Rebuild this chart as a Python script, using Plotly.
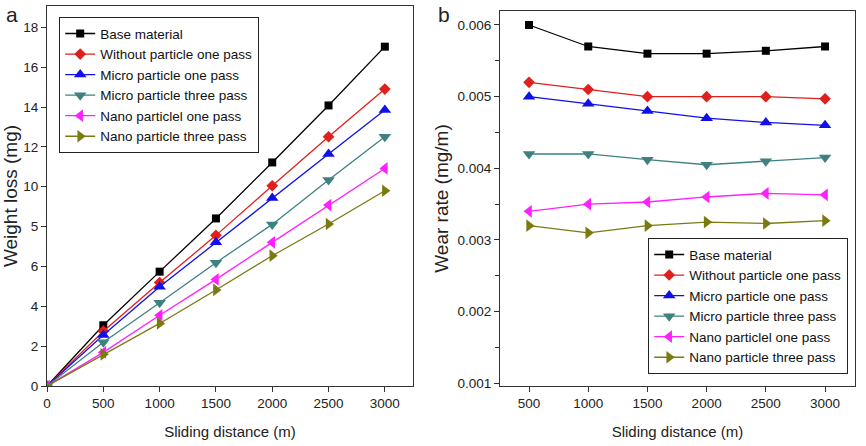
import plotly.graph_objects as go

series_names = ["Base material", "Without particle one pass", "Micro particle one pass",
                "Micro particle three pass", "Nano particlel one pass", "Nano particle three pass"]

# Panel a: weight loss (mg)
dist_a = [0, 500, 1000, 1500, 2000, 2500, 3000]
wl_base = [0, 3.05, 5.74, 8.41, 11.22, 14.08, 17.03]
wl_without = [0, 2.75, 5.19, 7.56, 10.05, 12.51, 14.9]
wl_micro1 = [0, 2.56, 4.98, 7.21, 9.43, 11.64, 13.85]
wl_micro3 = [0, 2.2, 4.18, 6.19, 8.11, 10.34, 12.51]
wl_nano1 = [0, 1.69, 3.55, 5.35, 7.21, 9.08, 10.92]
wl_nano3 = [0, 1.59, 3.14, 4.82, 6.54, 8.13, 9.8]

# Panel b: wear rate (mg/m)
dist_b = [500, 1000, 1500, 2000, 2500, 3000]
wr_base = [0.0060, 0.0057, 0.0056, 0.0056, 0.00564, 0.0057]
wr_without = [0.0052, 0.0051, 0.0050, 0.0050, 0.0050, 0.00497]
wr_micro1 = [0.0050, 0.0049, 0.0048, 0.0047, 0.00464, 0.0046]
wr_micro3 = [0.0042, 0.0042, 0.00412, 0.00405, 0.0041, 0.00415]
wr_nano1 = [0.0034, 0.0035, 0.00353, 0.0036, 0.00365, 0.00363]
wr_nano3 = [0.0032, 0.0031, 0.0032, 0.00325, 0.00323, 0.00327]

ytick_vals_a = [0, 2, 4, 6, 8, 10, 12, 14, 16, 18]
ytick_text_a = ["0", "2", "4", "6", "5", "10", "12", "14", "16", "18"]
xtick_vals_a = [0, 500, 1000, 1500, 2000, 2500, 3000]
xtick_vals_b = [500, 1000, 1500, 2000, 2500, 3000]
ytick_vals_b = [0.001, 0.002, 0.003, 0.004, 0.005, 0.006]
ytick_text_b = ["0.001", "0.002", "0.003", "0.004", "0.005", "0.006"]

colors = ["#000000", "#e0201c", "#1010e8", "#3f8080", "#ff20ff", "#7a7a10"]
symbols = ["square", "diamond", "triangle-up", "triangle-down", "triangle-left", "triangle-right"]
sizes = [8, 9, 11, 11, 11, 11]

FONT = "Liberation Sans, Arial, sans-serif"

fig = go.Figure()
data_a = [wl_base, wl_without, wl_micro1, wl_micro3, wl_nano1, wl_nano3]
data_b = [wr_base, wr_without, wr_micro1, wr_micro3, wr_nano1, wr_nano3]

for i, name in enumerate(series_names):
    fig.add_trace(go.Scatter(x=dist_a, y=data_a[i], name=name, mode="lines+markers",
                             line=dict(color=colors[i], width=1.3),
                             marker=dict(symbol=symbols[i], size=sizes[i], color=colors[i]),
                             xaxis="x", yaxis="y", legend="legend"))
for i, name in enumerate(series_names):
    fig.add_trace(go.Scatter(x=dist_b, y=data_b[i], name=name, mode="lines+markers",
                             line=dict(color=colors[i], width=1.3),
                             marker=dict(symbol=symbols[i], size=sizes[i], color=colors[i]),
                             xaxis="x2", yaxis="y2", legend="legend2"))

axis_common = dict(showgrid=False, zeroline=False, showline=True, linecolor="#333",
                   linewidth=1.2, mirror=True, ticks="outside", ticklen=5, tickcolor="#333",
                   automargin=False,
                   tickfont=dict(family=FONT, size=13.5, color="#222"))

fig.update_layout(
    width=866, height=446, margin=dict(l=0, r=0, t=0, b=0, autoexpand=False),
    paper_bgcolor="white", plot_bgcolor="white",
    font=dict(family=FONT, color="#222"),
    xaxis=dict(axis_common, domain=[0.0543, 0.4769], range=[0, 3250], tickvals=xtick_vals_a,
               title=dict(text="Sliding distance (m)", font=dict(family=FONT, size=15), standoff=16),
               anchor="y"),
    yaxis=dict(axis_common, domain=[0.1345, 0.9865], range=[0, 19.07], tickvals=ytick_vals_a,
               ticktext=ytick_text_a,
               title=dict(text="Weight loss (mg)", font=dict(family=FONT, size=19), standoff=4),
               anchor="x"),
    xaxis2=dict(axis_common, domain=[0.5774, 0.9873], range=[255, 3253], tickvals=xtick_vals_b,
                title=dict(text="Sliding distance (m)", font=dict(family=FONT, size=15), standoff=16),
                anchor="y2"),
    yaxis2=dict(axis_common, domain=[0.1345, 0.9753], range=[0.000962, 0.006195],
                tickvals=ytick_vals_b, ticktext=ytick_text_b,
                minor=dict(tickvals=[0.0015, 0.0025, 0.0035, 0.0045, 0.0055], ticks="outside",
                           ticklen=4, tickcolor="#333"),
                title=dict(text="Wear rate (mg/m)", font=dict(family=FONT, size=19), standoff=3),
                anchor="x2"),
    legend=dict(x=59/866, y=1 - 17/446, xanchor="left", yanchor="top",
                bgcolor="white", bordercolor="#222", borderwidth=1.2,
                font=dict(family=FONT, size=13.5, color="#111"), tracegroupgap=0,
                itemwidth=30),
    legend2=dict(x=648/866, y=1 - 238/446, xanchor="left", yanchor="top",
                 bgcolor="white", bordercolor="#222", borderwidth=1.2,
                 font=dict(family=FONT, size=13.5, color="#111"), tracegroupgap=0,
                 itemwidth=30),
    annotations=[
        dict(text="a", x=12/866, y=1 - 15/446, xref="paper", yref="paper", showarrow=False,
             xanchor="center", yanchor="middle",
             font=dict(family=FONT, size=21, color="#222")),
        dict(text="b", x=444/866, y=1 - 15/446, xref="paper", yref="paper", showarrow=False,
             xanchor="center", yanchor="middle",
             font=dict(family=FONT, size=21, color="#222")),
    ],
)

fig.write_html("out.html")
